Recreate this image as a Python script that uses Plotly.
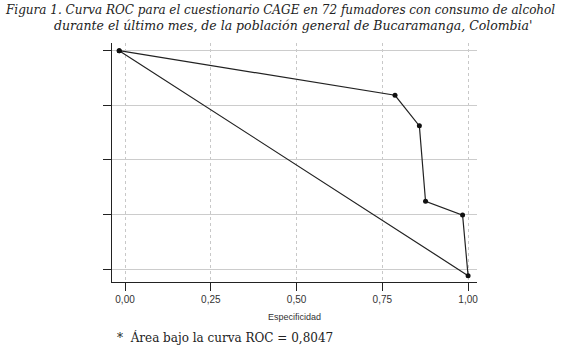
import plotly.graph_objects as go

# Data
especificidad = [-0.017, 0.787, 0.858, 0.876, 0.984, 1.0, -0.017]
sensibilidad = [1.0, 0.796, 0.656, 0.311, 0.248, -0.029, 1.0]

x_tickvals = [0, 0.25, 0.5, 0.75, 1.0]
x_ticktext = ["0,00", "0,25", "0,50", "0,75", "1,00"]
y_tickvals = [0, 0.25, 0.5, 0.75, 1.0]

title_line1 = "Figura 1. Curva ROC para el cuestionario CAGE en 72 fumadores con consumo de alcohol"
title_line2 = "durante el último mes, de la población general de Bucaramanga, Colombia'"
footnote = "*  Área bajo la curva ROC = 0,8047"
x_title = "Especificidad"

fig = go.Figure()
fig.add_trace(go.Scatter(
    x=especificidad, y=sensibilidad, mode="lines+markers",
    line=dict(color="#222222", width=1.2),
    marker=dict(color="#111111", size=5),
    showlegend=False, hoverinfo="skip",
))

fig.update_layout(
    width=570, height=349,
    margin=dict(l=112, r=93, t=43, b=67),
    paper_bgcolor="white", plot_bgcolor="white",
    xaxis=dict(range=[-0.038, 1.026], tickvals=x_tickvals, ticktext=x_ticktext,
               ticks="outside", ticklen=8, tickcolor="#222222", tickwidth=1,
               showline=True, linecolor="#222222", linewidth=1,
               showgrid=True, gridcolor="#c8c8c8", griddash="dot", gridwidth=1,
               zeroline=False,
               tickfont=dict(family="Liberation Sans", size=10, color="#333333")),
    yaxis=dict(range=[-0.058, 1.035], tickvals=y_tickvals, showticklabels=False,
               ticks="outside", ticklen=8, tickcolor="#222222", tickwidth=1,
               showline=True, linecolor="#222222", linewidth=1,
               showgrid=True, gridcolor="#cccccc", gridwidth=1,
               zeroline=False),
    annotations=[
        dict(text=title_line1, xref="paper", yref="paper", x=0.459, y=1,
             xanchor="center", yanchor="middle", yshift=33, showarrow=False,
             font=dict(family="DejaVu Serif", size=12, color="#222222", style="italic")),
        dict(text=title_line2, xref="paper", yref="paper", x=0.497, y=1,
             xanchor="center", yanchor="middle", yshift=18, showarrow=False,
             font=dict(family="DejaVu Serif", size=12.5, color="#222222", style="italic")),
        dict(text=x_title, xref="paper", yref="paper", x=0.5, y=0,
             xanchor="center", yanchor="middle", yshift=-35, showarrow=False,
             font=dict(family="Liberation Sans Narrow, Liberation Sans", size=9, color="#333333")),
        dict(text=footnote, xref="paper", yref="paper", x=0.008, y=0,
             xanchor="left", yanchor="middle", yshift=-55, showarrow=False,
             font=dict(family="DejaVu Serif", size=12, color="#222222")),
    ],
)

fig.write_html("out.html", config={"displayModeBar": False},
               post_script="document.body.style.margin='0';")
